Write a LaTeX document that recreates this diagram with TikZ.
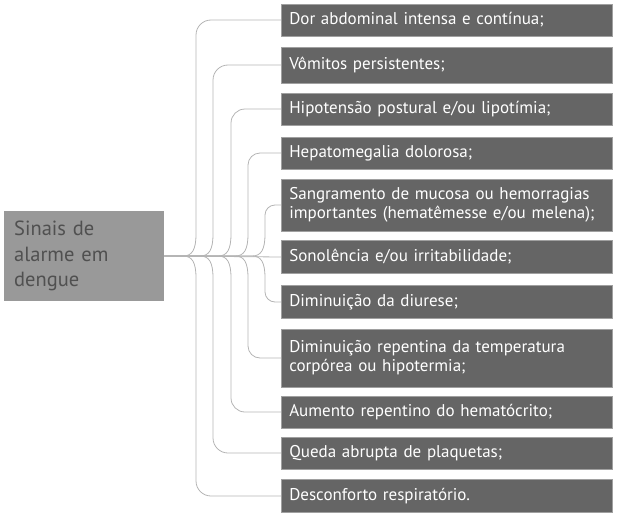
\documentclass[tikz,border=0pt]{standalone}
\usepackage{fontspec}
\setmainfont{PT Sans}
\usepackage{tikz}
\definecolor{caixa}{HTML}{656565}
\definecolor{raizfundo}{HTML}{999999}
\definecolor{raiztexto}{HTML}{505050}
\definecolor{linha}{HTML}{B4B4B4}
\definecolor{borda}{HTML}{A0A0A0}
\begin{document}
\begin{tikzpicture}[x=1pt,y=-1pt,
    sinal/.style={fill=caixa,draw=borda,line width=0.6pt,text=white,anchor=west,
      text width=315pt,inner xsep=8pt,inner ysep=0pt,align=left,minimum height=32pt,
      font=\fontsize{17}{19}\selectfont},
    raiz/.style={fill=raizfundo,text=raiztexto,anchor=west,text width=140pt,
      inner xsep=10pt,inner ysep=0pt,align=left,minimum height=90pt,
      font=\fontsize{20.5}{25.5}\selectfont},
    ramo/.style={draw=linha,line width=0.8pt}]
                \useasboundingbox (0,0) rectangle (618,519);
                % caixa central
                \node[raiz] (r) at (4,256) {Sinais de\\alarme em\\dengue};
                % sinais
                \node[sinal] (s1) at (281,20) {Dor abdominal intensa e contínua;};
                \node[sinal,minimum height=36pt] (s2) at (281,65) {Vômitos persistentes;};
                \node[sinal] (s3) at (281,109) {Hipotensão postural e/ou lipotímia;};
                \node[sinal] (s4) at (281,153) {Hepatomegalia dolorosa;};
                \node[sinal,minimum height=52pt] (s5) at (281,205) {Sangramento de mucosa ou hemorragias\\importantes (hematêmesse e/ou melena);};
                \node[sinal,minimum height=33pt] (s6) at (281,257) {Sonolência e/ou irritabilidade;};
                \node[sinal,minimum height=33pt] (s7) at (281,302) {Diminuição da diurese;};
                \node[sinal,minimum height=58pt] (s8) at (281,358) {Diminuição repentina da temperatura\\corpórea ou hipotermia;};
                \node[sinal] (s9) at (281,412) {Aumento repentino do hematócrito;};
                \node[sinal] (s10) at (281,453) {Queda abrupta de plaquetas;};
                \node[sinal,minimum height=33pt] (s11) at (281,496) {Desconforto respiratório.};
                % ligacoes
                \draw[ramo] (r.east) -- (s6.west);
                \foreach \xv/\up/\dn/\rc in {196/1/11/15, 213/2/10/15, 231/3/9/14, 248/4/8/12, 265/5/7/10} {
                  \draw[ramo] (r.east) -- (\xv-13,256) .. controls (\xv-4,256) and (\xv,250) .. (\xv,234)
                    [rounded corners=\rc pt] |- (s\up.west);
                  \draw[ramo] (r.east) -- (\xv-13,256) .. controls (\xv-4,256) and (\xv,262) .. (\xv,278)
                    [rounded corners=\rc pt] |- (s\dn.west);
                }
            \end{tikzpicture}
\end{document}
